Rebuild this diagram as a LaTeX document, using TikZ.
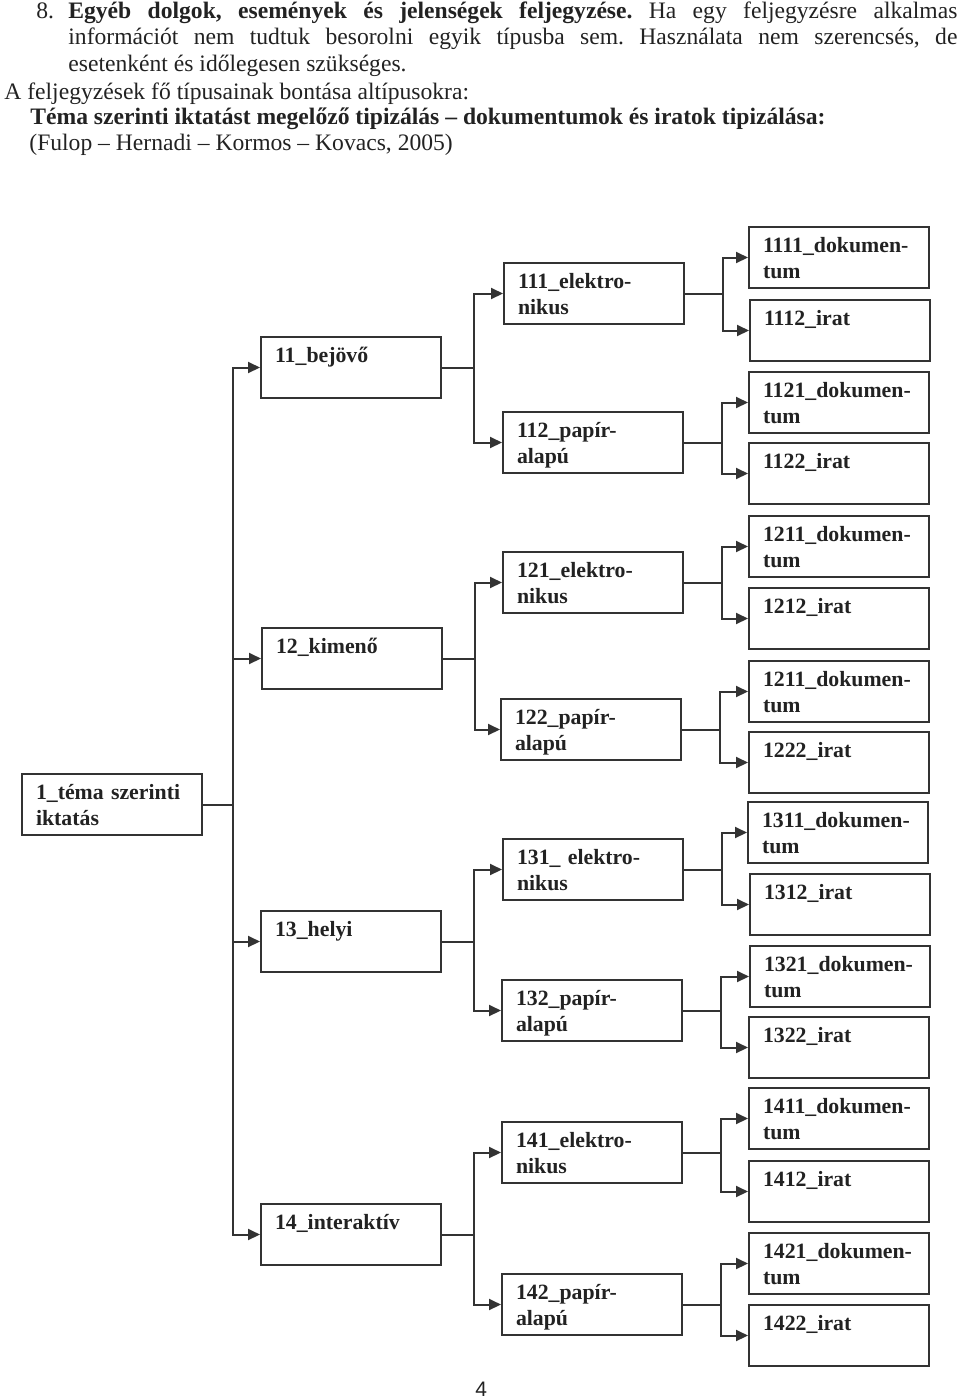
\documentclass[tikz,border=0pt]{standalone}
\usepackage{fontspec}
\setmainfont{Liberation Serif}
\newfontfamily\pagefont{Liberation Sans}
\usetikzlibrary{arrows.meta}
\frenchspacing

\definecolor{ink}{HTML}{222222}
\definecolor{wire}{HTML}{333333}

\begin{document}
\begin{tikzpicture}[x=0.5pt, y=-0.5pt,
    every node/.style={text=ink, inner sep=0pt},
    para/.style={anchor=base west, font=\fontsize{11.8}{13.35}\selectfont},
    tbox/.style={draw=wire, line width=1pt, anchor=north west,
        minimum width=90pt, minimum height=30.5pt,
        text width=76pt, align=left, inner xsep=7pt, inner ysep=0pt,
        text height=12.9pt, text depth=17.6pt,
        font=\fontsize{10.9}{13}\selectfont\bfseries},
    link/.style={draw=wire, line width=1pt, -{Triangle[length=6pt,width=5.5pt]}}]

    \useasboundingbox (0,0) rectangle (960,1398);

    % text above the chart
    \node[para] (num) at (36,18) {8.};
    \node[para, text width=444.5pt, align=justify] (item) at (68,18)
        {\textbf{Egyéb dolgok, események és jelenségek feljegyzése.} Ha egy feljegyzésre alkalmas\linebreak
         információt nem tudtuk besorolni egyik típusba sem. Használata nem szerencsés, de\linebreak
         esetenként és időlegesen szükséges.};
    \node[para] (intro) at (4,99) {A feljegyzések fő típusainak bontása altípusokra:};
    \node[para, font=\fontsize{11.8}{13.35}\selectfont\bfseries] (title) at (30,124)
        {Téma szerinti iktatást megelőző tipizálás – dokumentumok és iratok tipizálása:};
    \node[para] (src) at (29,150) {(Fulop – Hernadi – Kormos – Kovacs, 2005)};

    % level 1
    \node[tbox] (n1) at (21,773) {1\_téma szerinti\\iktatás};

    % level 2
    \node[tbox] (n11) at (260,336)  {11\_bejövő\\~};
    \node[tbox] (n12) at (261,627)  {12\_kimenő\\~};
    \node[tbox] (n13) at (260,910)  {13\_helyi\\~};
    \node[tbox] (n14) at (260,1203) {14\_interaktív\\~};

    % level 3
    \node[tbox] (n111) at (503,262)  {111\_elektro-\\nikus};
    \node[tbox] (n112) at (502,411)  {112\_papír-\\alapú};
    \node[tbox] (n121) at (502,551)  {121\_elektro-\\nikus};
    \node[tbox] (n122) at (500,698)  {122\_papír-\\alapú};
    \node[tbox] (n131) at (502,838)  {131\_ elektro-\\nikus};
    \node[tbox] (n132) at (501,979)  {132\_papír-\\alapú};
    \node[tbox] (n141) at (501,1121) {141\_elektro-\\nikus};
    \node[tbox] (n142) at (501,1273) {142\_papír-\\alapú};

    % level 4
    \node[tbox] (n1111) at (748,226)  {1111\_dokumen-\\tum};
    \node[tbox] (n1112) at (749,299)  {1112\_irat\\~};
    \node[tbox] (n1121) at (748,371)  {1121\_dokumen-\\tum};
    \node[tbox] (n1122) at (748,442)  {1122\_irat\\~};
    \node[tbox] (n1211) at (748,515)  {1211\_dokumen-\\tum};
    \node[tbox] (n1212) at (748,587)  {1212\_irat\\~};
    \node[tbox] (n1221) at (748,660)  {1211\_dokumen-\\tum};
    \node[tbox] (n1222) at (748,731)  {1222\_irat\\~};
    \node[tbox] (n1311) at (747,801)  {1311\_dokumen-\\tum};
    \node[tbox] (n1312) at (749,873)  {1312\_irat\\~};
    \node[tbox] (n1321) at (749,945)  {1321\_dokumen-\\tum};
    \node[tbox] (n1322) at (748,1016) {1322\_irat\\~};
    \node[tbox] (n1411) at (748,1087) {1411\_dokumen-\\tum};
    \node[tbox] (n1412) at (748,1160) {1412\_irat\\~};
    \node[tbox] (n1421) at (748,1232) {1421\_dokumen-\\tum};
    \node[tbox] (n1422) at (748,1304) {1422\_irat\\~};

    % elbow connectors
    \foreach \c in {11,12,13,14}
        \draw[link] (n1.east) -- ++(30,0) |- (n\c.west);
    \foreach \p in {11,12,13,14}
        \foreach \k in {1,2}
            \draw[link] (n\p.east) -- ++(32,0) |- (n\p\k.west);
    \foreach \p in {111,112,121,122,131,132,141,142}
        \foreach \k in {1,2}
            \draw[link] (n\p.east) -- ++(38,0) |- (n\p\k.west);

    \node[anchor=base west, font=\pagefont\fontsize{10.5}{12}\selectfont] (page) at (475,1396) {4};
\end{tikzpicture}
\end{document}
